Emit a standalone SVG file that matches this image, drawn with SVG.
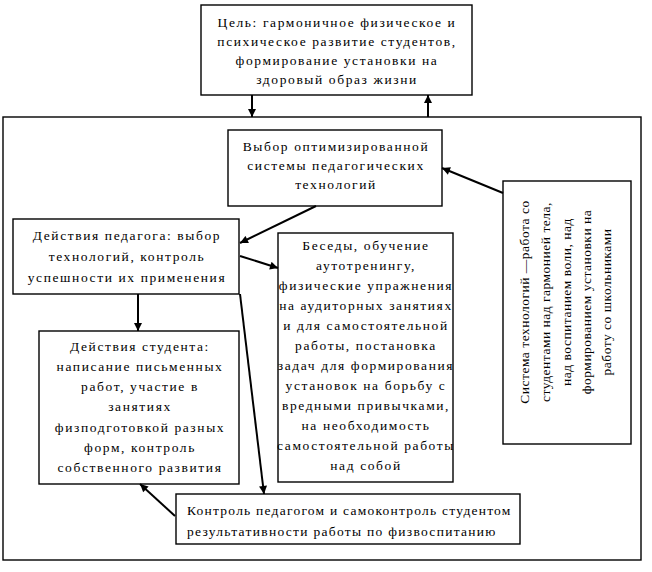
<svg xmlns="http://www.w3.org/2000/svg" width="652" height="572" viewBox="0 0 652 572">
<style>
.box{fill:#fff;stroke:#000;stroke-width:1.4}
.frame{fill:none;stroke:#000;stroke-width:1.4}
.c{text-anchor:middle}
.con line{stroke:#000;stroke-width:2;fill:none}
</style>
<defs>
<marker id="ah" viewBox="0 0 10 10" refX="10" refY="5" markerWidth="9" markerHeight="8" markerUnits="userSpaceOnUse" orient="auto">
<path d="M0,0 L10,5 L0,10 z" fill="#000"/>
</marker>
</defs>
<rect class="frame" x="3" y="117" width="638" height="443"/>
<g font-family="Liberation Serif, serif" font-size="13.5" letter-spacing="1.6" fill="#000">
<g id="goal">
<rect class="box" x="201" y="5" width="271" height="90"/>
<text class="c" x="337" y="27">Цель: гармоничное физическое и</text>
<text class="c" x="337" y="46">психическое развитие студентов,</text>
<text class="c" x="337" y="65">формирование установки на</text>
<text class="c" x="337" y="84">здоровый образ жизни</text>
</g>
<g id="choice">
<rect class="box" x="228" y="130" width="214" height="76"/>
<text class="c" x="336" y="151">Выбор оптимизированной</text>
<text class="c" x="336" y="170">системы педагогических</text>
<text class="c" x="336" y="189">технологий</text>
</g>
<g id="teacher">
<rect class="box" x="13" y="219" width="226" height="75"/>
<text class="c" x="127" y="240">Действия педагога: выбор</text>
<text class="c" x="127" y="261">технологий, контроль</text>
<text class="c" x="127" y="282">успешности их применения</text>
</g>
<g id="methods">
<rect class="box" x="278" y="233" width="175" height="249"/>
<text class="c" x="366" y="250">Беседы, обучение</text>
<text class="c" x="366" y="270">аутотренингу,</text>
<text class="c" x="366" y="290">физические упражнения</text>
<text class="c" x="366" y="310">на аудиторных занятиях</text>
<text class="c" x="366" y="330">и для самостоятельной</text>
<text class="c" x="366" y="350">работы, постановка</text>
<text class="c" x="366" y="370">задач для формирования</text>
<text class="c" x="366" y="390">установок на борьбу с</text>
<text class="c" x="366" y="410">вредными привычками,</text>
<text class="c" x="366" y="430">на необходимость</text>
<text class="c" x="366" y="450">самостоятельной работы</text>
<text class="c" x="366" y="470">над собой</text>
</g>
<g id="system">
<rect class="box" x="503" y="181" width="128" height="263"/>
<g transform="translate(0,302) rotate(-90)" letter-spacing="0.5">
<text class="c" x="0" y="529">Система технологий —работа со</text>
<text class="c" x="0" y="550">студентами над гармонией тела,</text>
<text class="c" x="0" y="571">над воспитанием воли, над</text>
<text class="c" x="0" y="591">формированием установки на</text>
<text class="c" x="0" y="611">работу со школьниками</text>
</g>
</g>
<g id="student">
<rect class="box" x="39" y="331" width="200" height="153"/>
<text class="c" x="140" y="351">Действия студента:</text>
<text class="c" x="140" y="371">написание письменных</text>
<text class="c" x="140" y="391">работ, участие в</text>
<text class="c" x="140" y="411">занятиях</text>
<text class="c" x="140" y="432">физподготовкой разных</text>
<text class="c" x="140" y="452">форм, контроль</text>
<text class="c" x="140" y="472">собственного развития</text>
</g>
<g id="control">
<rect class="box" x="176" y="494" width="344" height="50"/>
<text x="187" y="515" textLength="325" lengthAdjust="spacing">Контроль педагогом и самоконтроль студентом</text>
<text x="187" y="536" textLength="310" lengthAdjust="spacing">результативности работы по физвоспитанию</text>
</g>
</g>
<g id="connectors" class="con">
<line x1="252" y1="95" x2="252" y2="117" marker-end="url(#ah)"/>
<line x1="428" y1="117" x2="428" y2="95" marker-end="url(#ah)"/>
<line x1="503" y1="193" x2="442" y2="168" marker-end="url(#ah)"/>
<line x1="316" y1="206" x2="240" y2="243" marker-end="url(#ah)"/>
<line x1="240" y1="256" x2="278" y2="268" marker-end="url(#ah)"/>
<line x1="138" y1="294" x2="138" y2="331" marker-end="url(#ah)"/>
<line x1="240" y1="294" x2="264" y2="494" marker-end="url(#ah)"/>
<line x1="175" y1="516" x2="140" y2="484" marker-end="url(#ah)"/>
</g>
</svg>
